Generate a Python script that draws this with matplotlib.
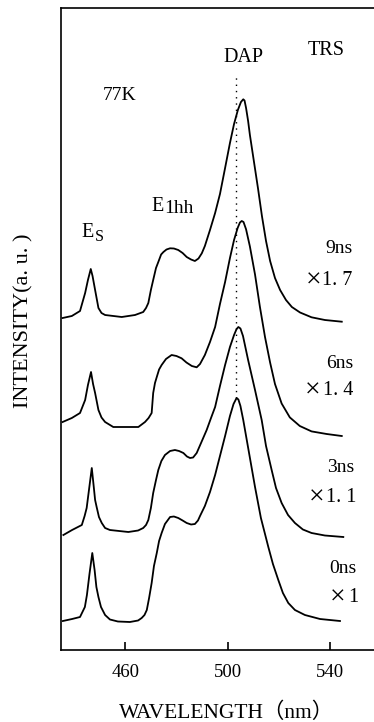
import matplotlib
matplotlib.use("Agg")
import matplotlib.pyplot as plt

plt.rcParams['font.family'] = ['Liberation Serif', 'DejaVu Serif']

# ---------------- data (wavelength in nm, intensity in a.u.) ----------------
wl_0ns = [435.6, 439.2, 442.3, 444.2, 445.0, 446.0, 447.1, 448.0, 448.7, 449.5, 450.5, 452.1,
          454.0, 457.1, 461.8, 465.0, 466.4, 467.5, 468.4, 469.3, 470.3, 471.2, 472.3, 473.2,
          474.2, 475.5, 477.5, 479.0, 480.7, 482.4, 484.0, 485.7, 487.2, 488.4, 489.2, 491.1,
          493.1, 495.1, 497.0, 499.0, 500.9, 502.3, 503.5, 504.2, 505.0, 506.1, 508.3, 510.7,
          513.0, 515.9, 517.7, 519.8, 521.6, 523.7, 526.3, 530.2, 536.1, 543.9]
int_0ns = [0, 2, 4, 14, 26, 47, 68, 51, 34, 24, 14, 6,
           1.5, -0.5, -1, 0.5, 3, 6, 11, 23, 38, 55, 68, 80,
           88, 97, 104, 104.5, 103, 100.5, 98, 96.5, 97, 100.5, 105, 115,
           129, 146, 165, 185, 205, 217, 223, 221.5, 215, 201, 169, 134,
           103, 74, 57, 41, 28, 18, 11, 6, 2, 0]

wl_3ns = [435.8, 439.2, 443.0, 444.1, 444.9, 445.8, 446.9, 447.6, 448.2, 448.8, 449.7, 450.8,
          452.1, 454.0, 461.2, 465.0, 467.0, 468.1, 469.0, 470.0, 470.9, 472.0, 472.9, 474.1,
          475.5, 477.5, 479.4, 481.0, 482.7, 484.1, 485.3, 486.5, 487.9, 489.6, 491.8, 493.5,
          495.1, 497.0, 499.0, 500.9, 502.5, 503.5, 504.2, 505.0, 506.0, 508.0, 510.7, 513.3,
          515.0, 517.2, 518.9, 521.1, 523.6, 526.3, 529.4, 532.8, 538.0, 545.2]
int_3ns = [0, 5, 10, 19, 27, 45, 67, 50, 35, 28, 18, 12,
           7, 5, 3, 4.5, 7, 10, 15, 27, 42, 55, 65, 74,
           80, 84, 85, 84, 82, 78.5, 77, 77.5, 82, 92, 105, 117,
           128, 149, 170, 188, 200, 206, 208, 206.5, 199, 175, 145, 115,
           89, 65, 47, 32, 20, 12, 5.5, 2, -0.5, -2]

wl_6ns = [435.5, 439.1, 442.3, 444.3, 445.4, 446.6, 447.4, 448.2, 449.5, 450.7, 452.1, 455.3,
          465.1, 467.7, 469.1, 470.3, 470.9, 471.6, 472.3, 473.2, 474.2, 475.9, 478.1, 480.0,
          482.0, 483.9, 486.0, 487.9, 489.2, 491.1, 493.1, 495.1, 497.0, 499.0, 500.9, 502.5,
          503.9, 504.8, 505.5, 506.2, 507.2, 508.7, 510.7, 512.6, 514.6, 516.6, 518.5, 521.1,
          524.3, 528.2, 532.8, 538.7, 544.6]
int_6ns = [0, 4, 9, 22, 37, 50, 38, 29, 12, 4.5, 0, -5,
           -5, 0, 4, 9, 29, 39, 45, 52.5, 57, 63, 67, 66,
           63.7, 59.5, 56, 54.7, 58, 67, 80, 95, 118, 140, 164, 182,
           194, 199.5, 201, 200, 192.7, 175.5, 147.5, 115.3, 85, 59.4, 38, 18.5,
           4.6, -4, -9.4, -12, -14]

wl_9ns = [435.5, 439.1, 442.3, 444.3, 445.4, 446.5, 447.2, 448.2, 449.5, 450.7, 452.1, 458.6,
          463.8, 467.0, 468.1, 469.0, 470.0, 470.9, 472.0, 472.9, 474.0, 474.9, 476.1, 477.5,
          479.0, 480.7, 482.4, 484.0, 485.7, 487.2, 488.6, 489.9, 491.1, 493.1, 495.1, 497.0,
          499.0, 500.9, 502.5, 504.0, 505.2, 506.1, 506.6, 507.2, 508.0, 508.7, 510.3, 511.9,
          513.4, 515.0, 516.6, 518.5, 520.5, 522.8, 525.1, 528.3, 532.8, 538.0, 544.6]
int_9ns = [0, 2, 7, 25, 38, 49, 42, 28, 10, 5, 3, 1,
           3, 6, 10, 15, 28, 38, 50, 56, 63.5, 66, 68.5, 69.7,
           69.5, 68, 65, 61, 58.5, 57, 59.5, 64.7, 72, 88, 105, 124,
           150, 175, 194, 208, 216, 218.7, 217.5, 210, 197, 183, 156, 129,
           102, 77, 57, 40, 28, 18, 11, 5.5, 0.7, -2, -3.7]

delays = ['0ns', '3ns', '6ns', '9ns']
factors = ['×1', '×1. 1', '×1. 4', '×1. 7']
offsets = [29, 115, 228, 332]
dap_wl = 503.3
xticks = [460, 500, 540]

# ---------------- figure ----------------
W, H = 374, 722
fig = plt.figure(figsize=(W / 100, H / 100), dpi=100)
ax = fig.add_axes([61 / W, 72 / H, 313 / W, 642 / H])
ax.set_xlim(434.87, 557.2)
ax.set_ylim(0, 642)

for wl, it, off in zip([wl_0ns, wl_3ns, wl_6ns, wl_9ns],
                       [int_0ns, int_3ns, int_6ns, int_9ns], offsets):
    ax.plot(wl, [v + off for v in it], color='black', lw=1.3,
            solid_joinstyle='round')

ax.plot([dap_wl, dap_wl], [offsets[0] + max(int_0ns), 573], color='black',
        lw=1.0, linestyle=(0, (1, 3.5)))

ax.set_xticks(xticks)
ax.set_yticks([])
ax.tick_params(axis='x', direction='in', length=6, width=1.2, pad=10,
               labelsize=13.5)
for s in ['left', 'bottom', 'top']:
    ax.spines[s].set_linewidth(1.2)
ax.spines['right'].set_visible(False)


def px(x, y):
    return x / W, 1 - y / H


def label(x, y, s, size=14, ha='center', **kw):
    fig.text(*px(x, y), s, fontsize=size, ha=ha, va='baseline', **kw)


label(243, 62, 'DAP', 14.5)
label(326, 55, 'TRS', 14.5)
label(120, 100, '77K', 14)
label(151.7, 210.7, 'E', 14.5, ha='left')
label(164.3, 213.3, '1hh', 14, ha='left')
label(81.7, 236.7, 'E', 14.5, ha='left')
label(95, 240.7, 'S', 11.5, ha='left')

lab_pos = {'9ns': (339, 253), '6ns': (340, 368), '3ns': (340.5, 472), '0ns': (342.5, 573)}
# (centre of the multiplication sign, left edge of the number, baseline)
fac_pos = {'×1. 7': (313.5, 321.7, 285), '×1. 4': (313, 322.7, 395),
           '×1. 1': (317, 326, 502), '×1': (338, 348, 602)}
for d in delays:
    label(*lab_pos[d], d, 14)
for f in factors:
    xc, xl, yb = fac_pos[f]
    label(xc, yb + 3, f[0], 20)
    label(xl, yb, f[1:], 14.5, ha='left')

fig.text(*px(23.5, 321), 'INTENSITY(a. u. )', rotation=90, fontsize=16,
         ha='center', va='center')
fig.text(*px(227, 718), 'WAVELENGTH（nm）', fontsize=15.5, ha='center',
         va='baseline', family=['Liberation Serif', 'Noto Sans CJK JP'])

fig.savefig('out.png', dpi=100)
